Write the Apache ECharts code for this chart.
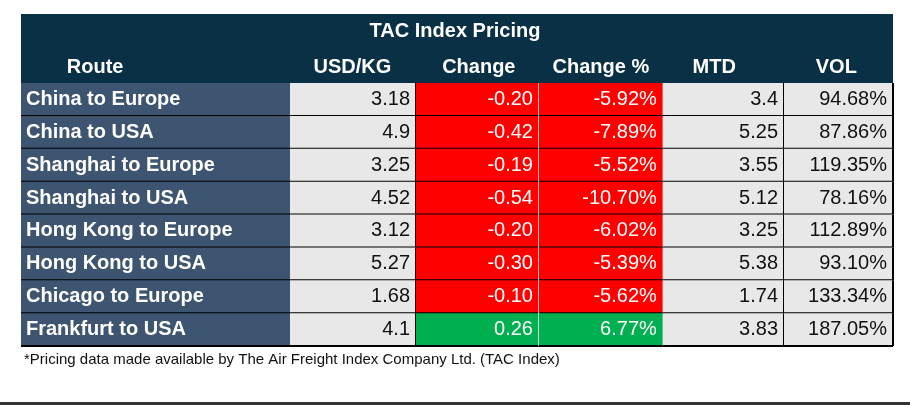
<!DOCTYPE html>
<html style="height: 100%">
<head><meta charset="utf-8"></head>
<body style="height: 100%; margin: 0; background: #fff">
<div id="container" style="height: 100%; width: 100%;"></div>
<script src="https://cdn.jsdelivr.net/npm/echarts@6/dist/echarts.min.js"></script>
<script>
const routes = ['China to Europe', 'China to USA', 'Shanghai to Europe', 'Shanghai to USA',
    'Hong Kong to Europe', 'Hong Kong to USA', 'Chicago to Europe', 'Frankfurt to USA'];
const usdKg = ['3.18', '4.9', '3.25', '4.52', '3.12', '5.27', '1.68', '4.1'];
const change = ['-0.20', '-0.42', '-0.19', '-0.54', '-0.20', '-0.30', '-0.10', '0.26'];
const changePct = ['-5.92%', '-7.89%', '-5.52%', '-10.70%', '-6.02%', '-5.39%', '-5.62%', '6.77%'];
const mtd = ['3.4', '5.25', '3.55', '5.12', '3.25', '5.38', '1.74', '3.83'];
const vol = ['94.68%', '87.86%', '119.35%', '78.16%', '112.89%', '93.10%', '133.34%', '187.05%'];
const headers = ['Route', 'USD/KG', 'Change', 'Change %', 'MTD', 'VOL'];

// column edges in percent of table width
const colEdges = [0, 30.85, 45.3, 59.4, 73.6, 87.5, 100];
const headerCenters = [8.5, 38, 52.5, 66.5, 79.5, 93.5];

var cells = [];
routes.forEach(function (r, i) {
    var up = parseFloat(change[i]) >= 0;
    var chgFill = up ? '#00b050' : '#ff0000';
    var cols = [r, usdKg[i], change[i], changePct[i], mtd[i], vol[i]];
    cols.forEach(function (t, c) {
        var fill = c === 0 ? '#3d5570' : (c === 2 || c === 3) ? chgFill : '#e8e8e8';
        var color = c === 0 ? '#fff' : (c === 2 || c === 3) ? '#fff' : '#111';
        cells.push([c, i, t, fill, color]);
    });
});

var chart = echarts.init(document.getElementById('container'));
chart.setOption({
    animation: false,
    grid: { left: 21, right: 17, top: 83, bottom: 61 },
    xAxis: { type: 'value', min: 0, max: 100, show: false },
    yAxis: { type: 'category', data: routes, inverse: true, show: false },
    series: [{
        type: 'custom',
        data: cells,
        renderItem: function (params, api) {
            var c = api.value(0), row = api.value(1);
            var d = cells[params.dataIndex];
            var p0 = api.coord([colEdges[c], row]);
            var p1 = api.coord([colEdges[c + 1], row]);
            var h = api.size([0, 1])[1];
            var x = p0[0], y = p0[1] - h / 2, w = p1[0] - p0[0];
            var kids = [{
                type: 'rect', shape: { x: x, y: y, width: w, height: h },
                style: { fill: d[3] }
            }, {
                type: 'line', shape: { x1: x, y1: y + h, x2: x + w, y2: y + h },
                style: { stroke: '#000', lineWidth: 2 }
            }];
            if (c >= 1) {
                kids.push({
                    type: 'line', shape: { x1: x + w, y1: y, x2: x + w, y2: y + h },
                    style: { stroke: c === 2 ? '#fff' : (c === 3 || c === 6) ? 'rgba(0,0,0,0)' : '#000', lineWidth: c === 2 ? 1.5 : 2 }
                });
            }
            kids.push({
                type: 'text',
                style: {
                    text: d[2], x: c === 0 ? x + 5 : x + w - 6, y: y + h / 2,
                    textAlign: c === 0 ? 'left' : 'right', textVerticalAlign: 'middle',
                    fill: d[4], font: (c === 0 ? 'bold ' : '') + '20px "Liberation Sans", Arial, sans-serif'
                }
            });
            return { type: 'group', children: kids };
        }
    }],
    graphic: [
        { type: 'rect', left: 21, top: 14, shape: { width: 872, height: 69 }, style: { fill: '#0a3045' } },
        { type: 'text', left: 'center', top: 21, style: { text: 'TAC Index Pricing', fill: '#fff', font: 'bold 20px "Liberation Sans", Arial, sans-serif' } }
    ].concat(headers.map(function (h, i) {
        return {
            type: 'text', x: 21 + headerCenters[i] * 8.72, y: 67,
            style: { text: h, fill: '#fff', textAlign: 'center', textVerticalAlign: 'middle', font: 'bold 20px "Liberation Sans", Arial, sans-serif' }
        };
    })).concat([
        { type: 'text', left: 24, top: 352, style: { text: '*Pricing data made available by The Air Freight Index Company Ltd. (TAC Index)', fill: '#111', font: '15px "Liberation Sans", Arial, sans-serif' } },
        { type: 'rect', left: 0, top: 402, shape: { width: 910, height: 3 }, style: { fill: '#333' } }
    ])
});
</script>
</body>
</html>
